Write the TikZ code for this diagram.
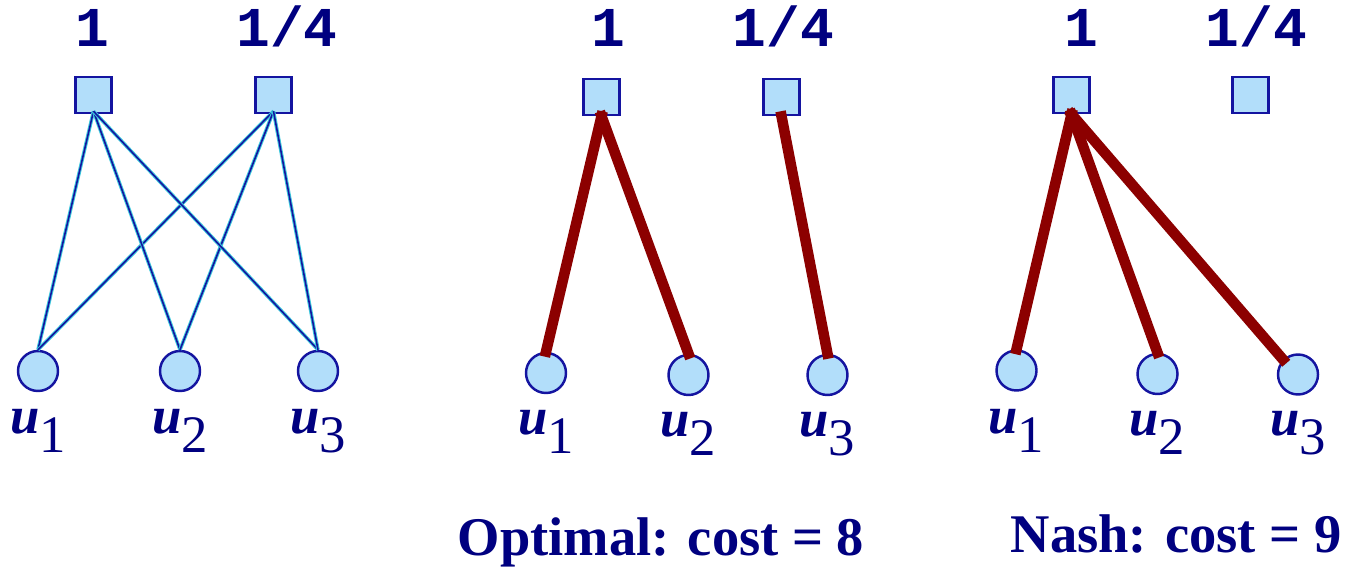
\documentclass[tikz,border=0pt]{standalone}
\usepackage{fontspec}
\setmainfont{Liberation Serif}
\setmonofont{Liberation Mono}
\usetikzlibrary{positioning}

\definecolor{blunotte}{RGB}{0,0,128}
\definecolor{celeste}{RGB}{178,222,250}
\definecolor{bordo}{RGB}{20,20,160}
\definecolor{rossoscuro}{RGB}{140,0,0}
\definecolor{azzurro}{RGB}{60,200,220}

\newcommand{\utn}[1]{{\bfseries\itshape u}\raisebox{-5.4pt}{#1}}

\begin{document}
\begin{tikzpicture}[
    impianto/.style={rectangle, draw=bordo, fill=celeste, line width=0.7pt, inner sep=0pt, minimum size=0.36cm},
    utente/.style={circle, draw=bordo, fill=celeste, line width=0.7pt, inner sep=0pt, minimum size=0.40cm},
    costo/.style={font=\fontsize{16}{16}\selectfont\ttfamily\bfseries, text=blunotte, anchor=base, inner sep=0pt},
    nome/.style={font=\fontsize{15}{15}\selectfont, text=blunotte, inner sep=0pt},
    arco/.style={draw=bordo, line width=0.45pt, preaction={draw=azzurro, line width=1pt}},
    scelta/.style={draw=rossoscuro, line width=3pt, shorten <=-0.05cm, shorten >=-0.05cm},
    totale/.style={font=\fontsize{15.5}{15.5}\selectfont\bfseries, text=blunotte, anchor=base, inner sep=0pt}
]

    % cornice
    \useasboundingbox (0,0) rectangle (13.48,-5.69);

    % 1. Istanza (sinistra)
    \node[impianto] (F1L) at (0.935,-0.95) {};
    \node[impianto] (F2L) at (2.735,-0.95) {};
    \node[costo] (C1L) at (0.92,-0.47) {1};
    \node[costo] (C2L) at (2.87,-0.47) {1/4};

    \node[utente] (U1L) at (0.38,-3.71) {};
    \node[utente] (U2L) at (1.80,-3.71) {};
    \node[utente] (U3L) at (3.18,-3.71) {};
    \node[nome, below=0.16 of U1L] (N1L) {\utn{1}};
    \node[nome, below=0.16 of U2L] (N2L) {\utn{2}};
    \node[nome, below=0.16 of U3L] (N3L) {\utn{3}};

    \foreach \u in {U1L,U2L,U3L} {
        \draw[arco] ([yshift=0.03cm]F1L.south) -- (\u.north);
        \draw[arco] ([yshift=0.03cm]F2L.south) -- (\u.north);
    }

    % 2. Ottimo (centro)
    \node[impianto] (F1O) at (6.015,-0.97) {};
    \node[impianto] (F2O) at (7.815,-0.97) {};
    \node[costo] (C1O) at (6.08,-0.47) {1};
    \node[costo] (C2O) at (7.835,-0.47) {1/4};

    \node[utente] (U1O) at (5.46,-3.73) {};
    \node[utente] (U2O) at (6.885,-3.75) {};
    \node[utente] (U3O) at (8.275,-3.75) {};
    \node[nome, below=0.15 of U1O] (N1O) {\utn{1}};
    \node[nome, below=0.15 of U2O] (N2O) {\utn{2}};
    \node[nome, below=0.15 of U3O] (N3O) {\utn{3}};

    \draw[scelta] (F1O.south) -- (U1O.north);
    \draw[scelta] (F1O.south) -- (U2O.north);
    \draw[scelta] (F2O.south) -- (U3O.north);

    \node[totale] (TO) at (6.61,-5.55) {Optimal: cost = 8};

    % 3. Nash (destra)
    \node[impianto] (F1N) at (10.715,-0.95) {};
    \node[impianto] (F2N) at (12.505,-0.95) {};
    \node[costo] (C1N) at (10.815,-0.47) {1};
    \node[costo] (C2N) at (12.565,-0.47) {1/4};

    \node[utente] (U1N) at (10.165,-3.705) {};
    \node[utente] (U2N) at (11.575,-3.74) {};
    \node[utente] (U3N) at (12.98,-3.745) {};
    \node[nome, below=0.17 of U1N] (N1N) {\utn{1}};
    \node[nome, below=0.15 of U2N] (N2N) {\utn{2}};
    \node[nome, below=0.15 of U3N] (N3N) {\utn{3}};

    \draw[scelta] (F1N.south) -- (U1N.north);
    \draw[scelta] (F1N.south) -- (U2N.north);
    \draw[scelta] (F1N.south) -- (U3N.north west);

    \node[totale] (TN) at (11.76,-5.52) {Nash: cost = 9};

\end{tikzpicture}
\end{document}
